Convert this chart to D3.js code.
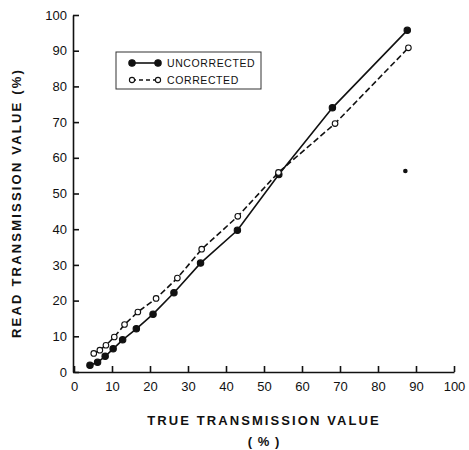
<!DOCTYPE html>
<html>
<head>
<meta charset="utf-8">
<script src="https://cdn.jsdelivr.net/npm/d3@7"></script>
<style>
  body { margin: 0; background: #fff; }
  text { font-family: "Liberation Sans", Arial, sans-serif; fill: #111; }
</style>
</head>
<body>
<div id="chart"></div>
<script>
// data (true %, read %)
const uncorrectedX = [4.2, 6.2, 8.2, 10.3, 12.8, 16.4, 20.8, 26.3, 33.3, 43.0, 53.9, 68.0, 87.7];
const uncorrectedY = [1.9, 2.7, 4.4, 6.5, 9.0, 12.1, 16.2, 22.2, 30.5, 39.7, 55.3, 74.0, 95.7];
const correctedX = [5.2, 6.8, 8.4, 10.6, 13.3, 16.8, 21.6, 27.2, 33.6, 43.1, 53.8, 68.7, 88.0];
const correctedY = [5.2, 6.1, 7.5, 9.8, 13.3, 16.8, 20.6, 26.3, 34.4, 43.6, 55.9, 69.6, 90.8];
const strayX = [87.2];
const strayY = [56.3];
const tickValues = [0, 10, 20, 30, 40, 50, 60, 70, 80, 90, 100];

const W = 469, H = 450;
const margin = {top: 15, right: 15, bottom: 78, left: 74};

const svg = d3.select("#chart").append("svg")
  .attr("width", W).attr("height", H);

const x = d3.scaleLinear().domain([0, 100]).range([margin.left, 454]);
const y = d3.scaleLinear().domain([0, 100]).range([372, margin.top]);

// axes, ticks pointing inward
svg.append("g")
  .attr("transform", `translate(0,${y(0)})`)
  .call(d3.axisBottom(x).tickValues(tickValues).tickSize(-6).tickSizeOuter(0).tickPadding(9))
  .call(g => g.selectAll("path, line").attr("stroke", "#111").attr("stroke-width", 1.6))
  .call(g => g.selectAll("text").style("font-size", "13px").attr("dy", "0.75em"));

svg.append("g")
  .attr("transform", `translate(${x(0) - 1},0)`)
  .call(d3.axisLeft(y).tickValues(tickValues).tickSize(-6).tickSizeOuter(0).tickPadding(6))
  .call(g => g.selectAll("path, line").attr("stroke", "#111").attr("stroke-width", 1.6))
  .call(g => g.selectAll("text").style("font-size", "13px"));

// axis titles
svg.append("text")
  .attr("x", 264).attr("y", 425)
  .attr("text-anchor", "middle")
  .style("font-size", "13px").style("font-weight", "bold").style("letter-spacing", "2.1px")
  .text("TRUE TRANSMISSION VALUE");
svg.append("text")
  .attr("x", 264).attr("y", 446)
  .attr("text-anchor", "middle")
  .style("font-size", "13px").style("font-weight", "bold").style("letter-spacing", "1px")
  .text("( % )");
svg.append("text")
  .attr("transform", "translate(21,203) rotate(-90)")
  .attr("text-anchor", "middle")
  .style("font-size", "13px").style("font-weight", "bold").style("letter-spacing", "2.2px")
  .text("READ TRANSMISSION VALUE (%)");

const series = [
  {name: "UNCORRECTED", xs: uncorrectedX, ys: uncorrectedY, filled: true, dash: null},
  {name: "CORRECTED", xs: correctedX, ys: correctedY, filled: false, dash: "6,3"}
];

const line = d3.line().x(d => x(d[0])).y(d => y(d[1]));

series.forEach(s => {
  const pts = s.xs.map((v, i) => [v, s.ys[i]]);
  svg.append("path")
    .attr("d", line(pts))
    .attr("fill", "none")
    .attr("stroke", "#111")
    .attr("stroke-width", 1.6)
    .attr("stroke-dasharray", s.dash);
  svg.selectAll(null)
    .data(pts)
    .join("circle")
      .attr("cx", d => x(d[0]))
      .attr("cy", d => y(d[1]))
      .attr("r", s.filled ? 3.2 : 2.8)
      .attr("fill", s.filled ? "#111" : "#fff")
      .attr("stroke", "#111")
      .attr("stroke-width", 1.1);
});

// stray dot
svg.selectAll(null)
  .data(strayX.map((v, i) => [v, strayY[i]]))
  .join("circle")
    .attr("cx", d => x(d[0]))
    .attr("cy", d => y(d[1]))
    .attr("r", 2.3)
    .attr("fill", "#111");

// legend
const lg = svg.append("g");
lg.append("rect")
  .attr("x", 116).attr("y", 52).attr("width", 145).attr("height", 37)
  .attr("fill", "none").attr("stroke", "#333").attr("stroke-width", 1);

series.forEach((s, i) => {
  const ly = 63 + i * 17;
  lg.append("line")
    .attr("x1", 132).attr("x2", 158).attr("y1", ly).attr("y2", ly)
    .attr("stroke", "#111").attr("stroke-width", 1.6)
    .attr("stroke-dasharray", s.dash ? "4,3" : null);
  [132, 158].forEach(cx => {
    lg.append("circle")
      .attr("cx", cx).attr("cy", ly)
      .attr("r", s.filled ? 3.2 : 2.6)
      .attr("fill", s.filled ? "#111" : "#fff")
      .attr("stroke", "#111").attr("stroke-width", 1.1);
  });
  lg.append("text")
    .attr("x", 167).attr("y", ly + 4)
    .style("font-size", "10.5px").style("letter-spacing", "0.6px")
    .text(s.name);
});
</script>
</body>
</html>
